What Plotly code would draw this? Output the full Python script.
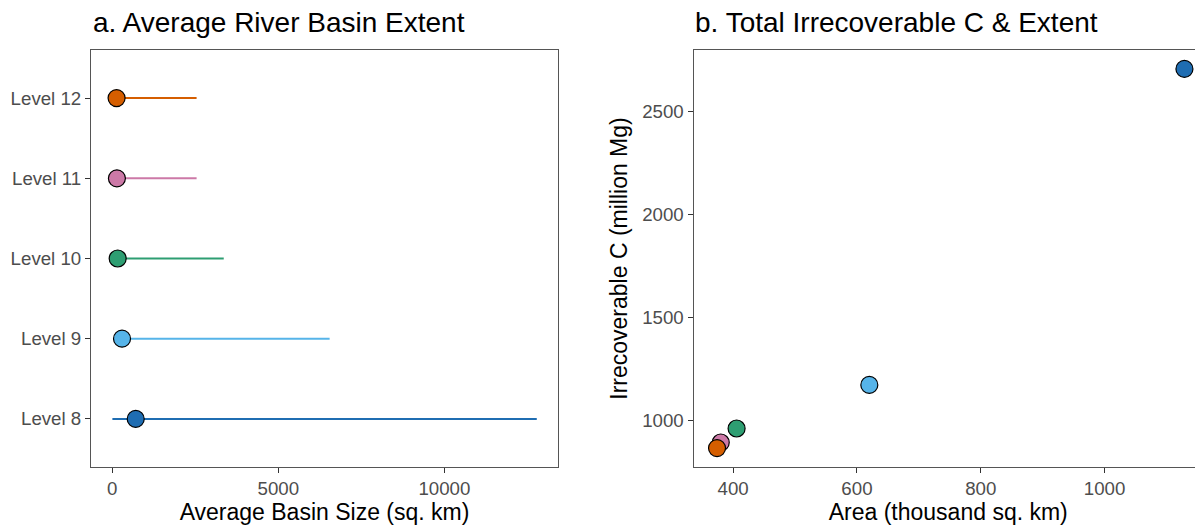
import plotly.graph_objects as go

levels = ["Level 8", "Level 9", "Level 10", "Level 11", "Level 12"]
colors = ["#1F6DB2", "#56B4E9", "#2E9E72", "#CC79A7", "#D55E00"]
basin_mean = [707, 295, 164, 141, 131]
basin_min = [5, 30, 20, 15, 10]
basin_max = [12781, 6545, 3357, 2540, 2540]
area_k = [1129, 620, 405.6, 380, 374]
irrec_c = [2708, 1173, 961, 893, 866]

# page body has an 8px margin; figure sized to fill the rest of the window
W, H = 1195, 517
OFF = 8
FONT = "Liberation Sans, Arial, sans-serif"
fig = go.Figure()

for i, lv in enumerate(levels):
    fig.add_trace(go.Scatter(
        x=[basin_min[i], basin_max[i]], y=[lv, lv], mode="lines",
        line=dict(color=colors[i], width=2), xaxis="x", yaxis="y",
        showlegend=False, hoverinfo="skip"))
for i, lv in enumerate(levels):
    fig.add_trace(go.Scatter(
        x=[basin_mean[i]], y=[lv], mode="markers",
        marker=dict(color=colors[i], size=17, line=dict(color="black", width=1.2)),
        xaxis="x", yaxis="y", showlegend=False, name=lv))
for i, lv in enumerate(levels):
    fig.add_trace(go.Scatter(
        x=[area_k[i]], y=[irrec_c[i]], mode="markers",
        marker=dict(color=colors[i], size=17, line=dict(color="black", width=1.2)),
        xaxis="x2", yaxis="y2", showlegend=False, name=lv))

ax_common = dict(showgrid=False, zeroline=False, showline=True, mirror=True,
                 linecolor="#555555", linewidth=1, ticks="outside", ticklen=5,
                 tickcolor="#333333", tickfont=dict(family=FONT, size=18.7, color="#4D4D4D"))

def px_x(p):
    return (p - OFF) / W

def px_y(p):
    return 1 - (p - OFF) / H

ydom = [px_y(467), px_y(50)]
fig.update_layout(
    width=W, height=H, margin=dict(l=0, r=0, t=0, b=0),
    plot_bgcolor="white", paper_bgcolor="white",
    xaxis=dict(domain=[px_x(91), px_x(558)], range=[-639, 13420],
               tickvals=[0, 5000, 10000], ticktext=["0", "5000", "10000"],
               title=dict(text="Average Basin Size (sq. km)", standoff=4,
                          font=dict(family=FONT, size=23, color="black")),
               anchor="y", **ax_common),
    yaxis=dict(domain=ydom, range=[-0.6, 4.6], type="category",
               categoryorder="array", categoryarray=levels, anchor="x", **ax_common),
    xaxis2=dict(domain=[px_x(693.5), 1.0], range=[336, 1159],
                tickvals=[400, 600, 800, 1000],
                title=dict(text="Area (thousand sq. km)", standoff=4,
                           font=dict(family=FONT, size=23, color="black")),
                anchor="y2", **ax_common),
    yaxis2=dict(domain=ydom, range=[774, 2800], tickvals=[1000, 1500, 2000, 2500],
                title=dict(text="Irrecoverable C (million Mg)", standoff=8,
                           font=dict(family=FONT, size=23, color="black")),
                anchor="x2", **ax_common),
    annotations=[
        dict(text="a. Average River Basin Extent", x=px_x(91), y=px_y(23),
             xref="paper", yref="paper", xanchor="left", yanchor="middle",
             showarrow=False, font=dict(family=FONT, size=28, color="black")),
        dict(text="b. Total Irrecoverable C & Extent", x=px_x(693), y=px_y(23),
             xref="paper", yref="paper", xanchor="left", yanchor="middle",
             showarrow=False, font=dict(family=FONT, size=28, color="black")),
    ],
)

fig.write_html("out.html")
